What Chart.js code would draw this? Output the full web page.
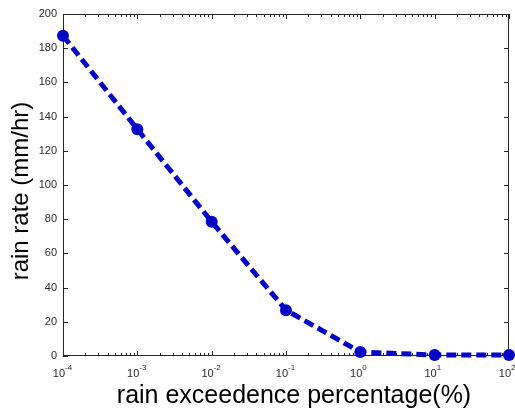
<!DOCTYPE html>
<html>
<head>
<meta charset="utf-8">
<script src="https://cdn.jsdelivr.net/npm/chart.js@4.4.1/dist/chart.umd.min.js"></script>
<style>
html,body{margin:0;padding:0;background:#fff}
</style>
</head>
<body>
<canvas id="chart" width="515" height="410"></canvas>
<script>
// data
const exceedence=[0.0001,0.001,0.01,0.1,1,10,100]
const rainRate=[187.3,132.6,78.5,26.8,2.3,0.6,0.6]
const xTickPowers=[-4,-3,-2,-1,0,1,2]
const yTicks=[0,20,40,60,80,100,120,140,160,180,200]

const xTitle="rain exceedence percentage(%)"
const yTitle="rain rate (mm/hr)"

const blue="#0505c8"

// matlab style box: inside ticks, minor log ticks, superscript labels
const boxAxes={
  id:'boxAxes',
  beforeDatasetsDraw(chart){
    const ctx=chart.ctx
    const a=chart.chartArea
    const x=chart.scales.x
    const y=chart.scales.y
    ctx.save()
    ctx.strokeStyle="#262626"
    ctx.lineWidth=1
    ctx.strokeRect(a.left+0.5,a.top+0.5,a.right-a.left-1,a.bottom-a.top-1)

    ctx.beginPath()
    yTicks.forEach(v=>{
      let py=Math.round(y.getPixelForValue(v))+0.5
      ctx.moveTo(a.left,py);ctx.lineTo(a.left+5,py)
      ctx.moveTo(a.right,py);ctx.lineTo(a.right-5,py)
    })
    xTickPowers.forEach(p=>{
      for(let m=1;m<10;m++){
        if(p===xTickPowers[xTickPowers.length-1]&&m>1) break
        let px=Math.round(x.getPixelForValue(m*Math.pow(10,p)))+0.5
        let len=m===1?5:3
        ctx.moveTo(px,a.bottom);ctx.lineTo(px,a.bottom-len)
        ctx.moveTo(px,a.top);ctx.lineTo(px,a.top+len)
      }
    })
    ctx.stroke()

    // tick labels
    ctx.fillStyle="#2a2a2a"
    ctx.font="11px 'Liberation Sans', Arial, sans-serif"
    ctx.textAlign="right"
    ctx.textBaseline="middle"
    yTicks.forEach(v=>{
      ctx.fillText(String(v),a.left-6,y.getPixelForValue(v))
    })
    xTickPowers.forEach(p=>{
      let px=x.getPixelForValue(Math.pow(10,p))
      ctx.font="11px 'Liberation Sans', Arial, sans-serif"
      ctx.textAlign="right"
      ctx.textBaseline="alphabetic"
      ctx.fillText("10",px+2,a.bottom+21)
      ctx.font="8px 'Liberation Sans', Arial, sans-serif"
      ctx.textAlign="left"
      ctx.fillText(p<0?"-"+(-p):String(p),px+2,a.bottom+14)
    })

    // axis titles
    ctx.fillStyle="#000"
    ctx.font="25px 'Liberation Sans', Arial, sans-serif"
    ctx.textAlign="center"
    ctx.textBaseline="alphabetic"
    ctx.fillText(xTitle,(a.left+a.right)/2+8,403)
    ctx.translate(28,191)
    ctx.rotate(-Math.PI/2)
    ctx.font="24px 'Liberation Sans', Arial, sans-serif"
    ctx.fillText(yTitle,0,0)
    ctx.restore()
  }
}

const ctx=document.getElementById("chart").getContext("2d")
const rainChart=new Chart(ctx,{
  type:'line',
  data:{
    datasets:[{
      data:exceedence.map((v,i)=>({x:v,y:rainRate[i]})),
      borderColor:blue,
      backgroundColor:blue,
      borderWidth:5,
      borderDash:[10,5],
      pointRadius:6,
      pointBorderWidth:0,
      pointStyle:'circle',
      tension:0,
      clip:false
    }]
  },
  options:{
    responsive:false,
    animation:false,
    layout:{padding:{left:63,right:6,top:14,bottom:54}},
    plugins:{legend:{display:false},tooltip:{enabled:false}},
    scales:{
      x:{type:'logarithmic',min:0.0001,max:100,display:false},
      y:{type:'linear',min:0,max:200,display:false}
    }
  },
  plugins:[boxAxes]
})
</script>
</body>
</html>
